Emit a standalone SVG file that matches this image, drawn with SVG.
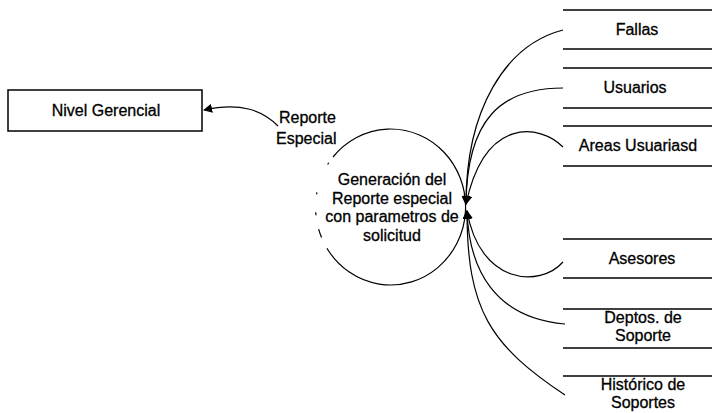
<svg xmlns="http://www.w3.org/2000/svg" width="712" height="413" viewBox="0 0 712 413">
  <style>
    text { font-family: "Liberation Sans", Arial, sans-serif; font-size: 16px; fill: #000; stroke: #000; stroke-width: 0.3; }
    .mid { text-anchor: middle; }
    .box { fill: #fff; stroke: #000; stroke-width: 1.5; }
    .store line { stroke: #000; stroke-width: 1.6; }
    .flow { fill: none; stroke: #000; stroke-width: 1.2; }
    .proc { fill: none; stroke: #000; stroke-width: 1.2; }
  </style>
  <defs>
    <marker id="arrow" viewBox="0 0 10 10" refX="9" refY="5" markerWidth="9" markerHeight="9" markerUnits="userSpaceOnUse" orient="auto">
      <path d="M0,0 L10,5 L0,10 Z" fill="#000"/>
    </marker>
  </defs>
  <rect width="712" height="413" fill="#fff"/>

  <!-- external entity -->
  <g id="nivel-gerencial">
    <rect class="box" x="8" y="90" width="194" height="41"/>
    <text class="mid" x="106" y="116">Nivel Gerencial</text>
  </g>

  <!-- process -->
  <g id="proceso">
    <path class="proc" d="M333,157 A75,78 0 1 1 328,250"/>
    <path class="proc" d="M328,250 A75,78 0 0 1 333,157" stroke-dasharray="2 12 9 14 3 18 2 30"/>
    <text class="mid" x="392" y="185">Generación del</text>
    <text class="mid" x="392" y="204">Reporte especial</text>
    <text class="mid" x="392" y="222">con parametros de</text>
    <text class="mid" x="392" y="241">solicitud</text>
  </g>

  <!-- data stores -->
  <g id="fallas" class="store">
    <line x1="563" y1="10" x2="712" y2="10"/>
    <line x1="563" y1="49" x2="712" y2="49"/>
    <text class="mid" x="637" y="35">Fallas</text>
  </g>
  <g id="usuarios" class="store">
    <line x1="563" y1="68" x2="712" y2="68"/>
    <line x1="563" y1="108" x2="712" y2="108"/>
    <text class="mid" x="635" y="93">Usuarios</text>
  </g>
  <g id="areas-usuarias" class="store">
    <line x1="563" y1="126" x2="712" y2="126"/>
    <line x1="563" y1="166" x2="712" y2="166"/>
    <text class="mid" x="638" y="151">Areas Usuariasd</text>
  </g>
  <g id="asesores" class="store">
    <line x1="563" y1="239" x2="712" y2="239"/>
    <line x1="563" y1="278" x2="712" y2="278"/>
    <text class="mid" x="642" y="264">Asesores</text>
  </g>
  <g id="deptos-soporte" class="store">
    <line x1="563" y1="309" x2="712" y2="309"/>
    <line x1="563" y1="348" x2="712" y2="348"/>
    <text class="mid" x="643" y="323">Deptos. de</text>
    <text class="mid" x="643" y="341">Soporte</text>
  </g>
  <g id="historico-soportes" class="store">
    <line x1="563" y1="376" x2="712" y2="376"/>
    <text class="mid" x="643" y="390">Histórico de</text>
    <text class="mid" x="643" y="408">Soportes</text>
  </g>

  <!-- data flows -->
  <g id="flujos">
    <path class="flow" d="M278,126 C262,110 240,102 204,110" marker-end="url(#arrow)"/>
    <text x="279" y="123">Reporte</text>
    <text x="276" y="144">Especial</text>

    <path class="flow" d="M563,30 C505,45 466,110 466,204" marker-end="url(#arrow)"/>
    <path class="flow" d="M563,88 C500,88 467,120 466,204" marker-end="url(#arrow)"/>
    <path class="flow" d="M563,147 C540,124 485,116 466,204" marker-end="url(#arrow)"/>

    <path class="flow" d="M563,262 C540,288 480,285 467,211" marker-end="url(#arrow)"/>
    <path class="flow" d="M565,324 C495,318 469,270 467,211" marker-end="url(#arrow)"/>
    <path class="flow" d="M565,395 C490,345 467,310 467,211" marker-end="url(#arrow)"/>
  </g>
</svg>
